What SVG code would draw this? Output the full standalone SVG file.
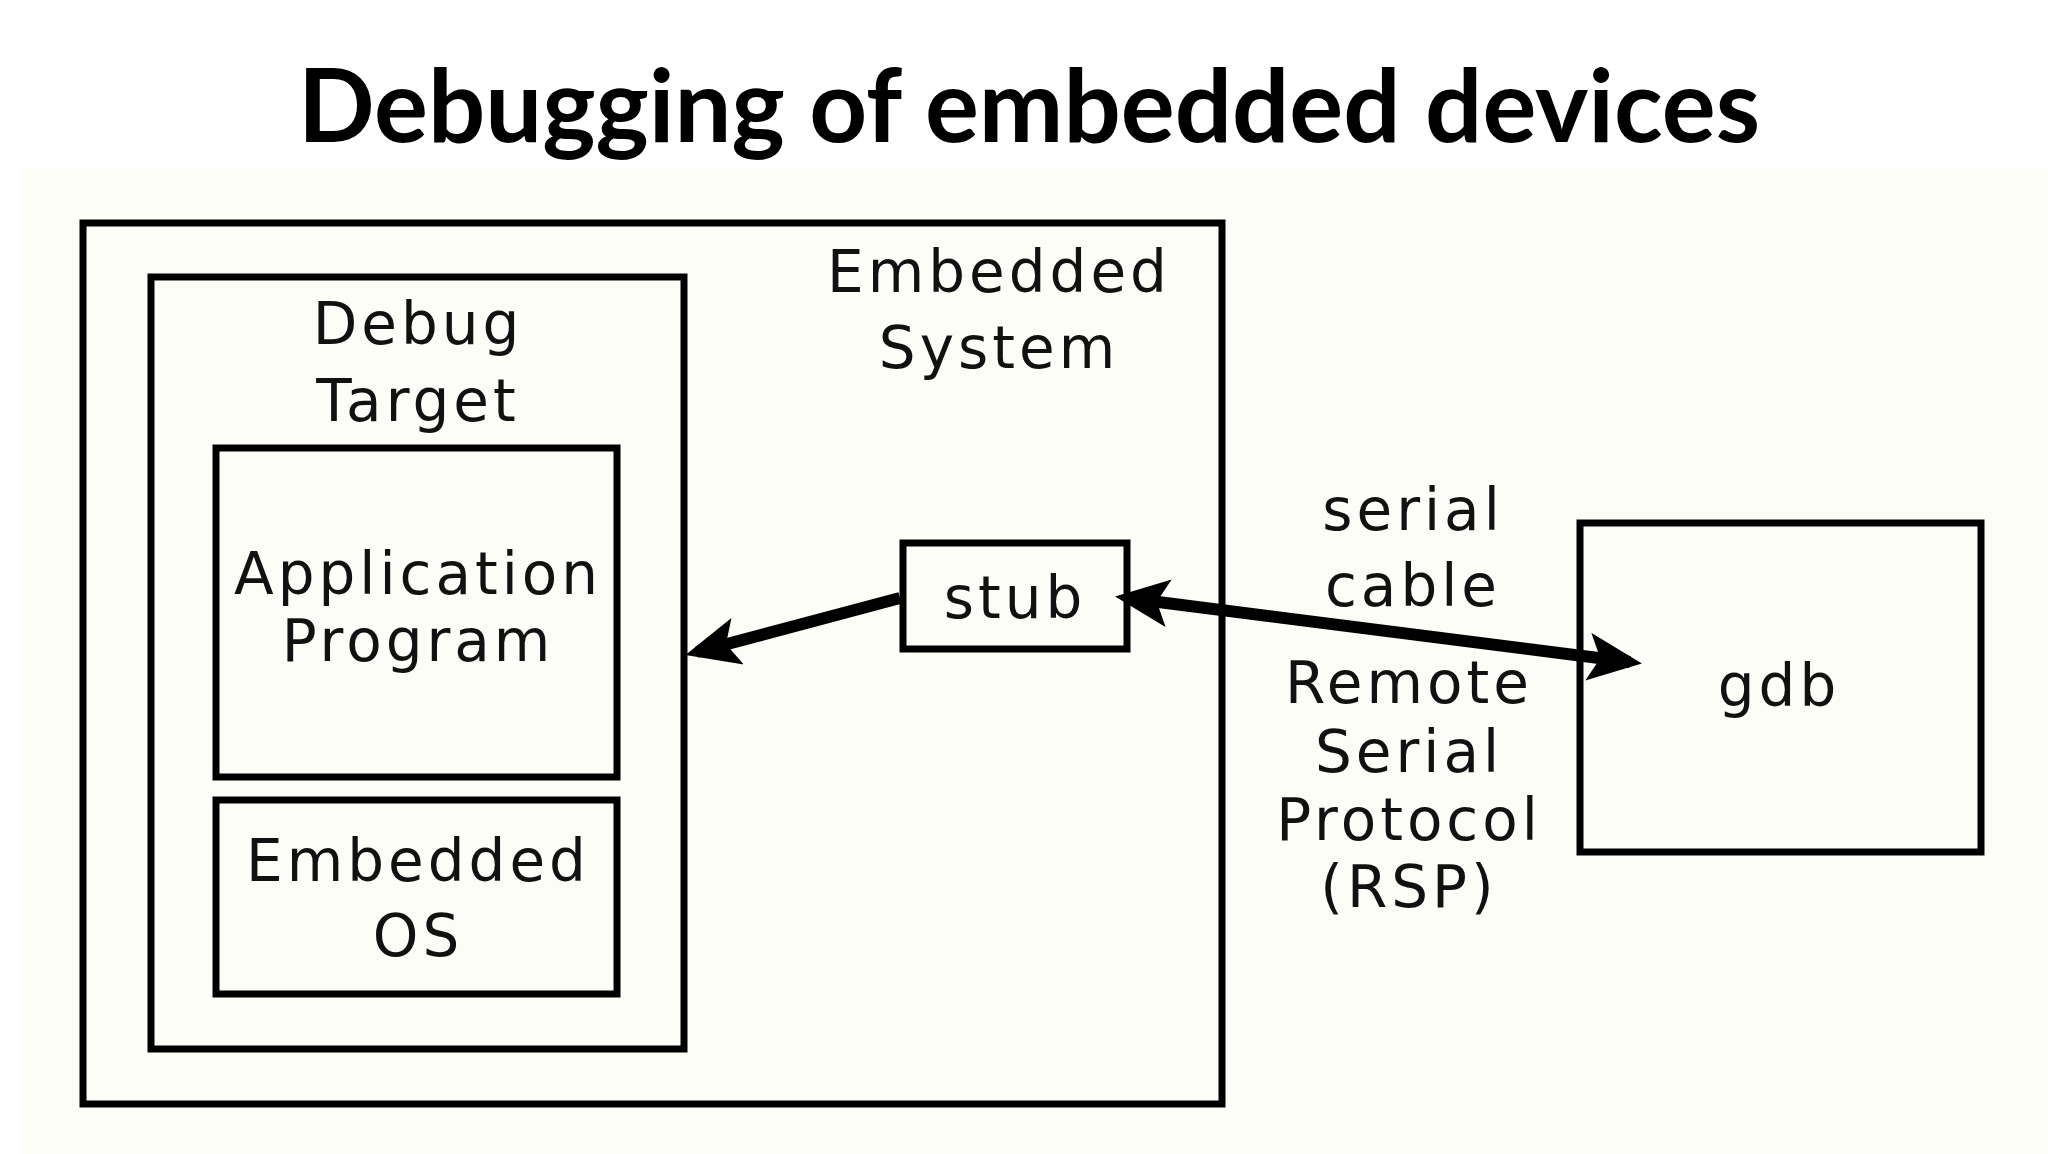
<svg xmlns="http://www.w3.org/2000/svg" width="2048" height="1154" viewBox="0 0 2048 1154">
<style>
.box{fill:none;stroke:#000;stroke-width:7}
.t{font-family:"DejaVu Sans",sans-serif;font-size:58px;letter-spacing:4px;text-anchor:middle;fill:#111}
.c{stroke:#000;stroke-width:12;fill:none}
</style>
<defs>
<marker id="ah" markerWidth="4.5" markerHeight="4" refX="3.5" refY="2" orient="auto-start-reverse" markerUnits="strokeWidth"><path d="M0,0 L4.5,2 L0,4 L1,2 Z" fill="#000"/></marker>
</defs>
<rect width="2048" height="1154" fill="#fff"/>
<rect x="20" y="168" width="2028" height="986" fill="#fdfdf7"/>
<text x="1029" y="142" font-family="Lato,sans-serif" font-weight="700" font-size="101" text-anchor="middle" fill="#000">Debugging of embedded devices</text>
<g id="embedded-system"><rect class="box" x="83" y="223" width="1139" height="881"/><text class="t" x="999" y="292">Embedded</text><text class="t" x="999" y="368">System</text></g>
<g id="debug-target"><rect class="box" x="151" y="277" width="533" height="772"/><text class="t" x="418" y="344">Debug</text><text class="t" x="418" y="421">Target</text></g>
<g id="app"><rect class="box" x="216" y="448" width="401" height="329"/><text class="t" x="418" y="594">Application</text><text class="t" x="418" y="661">Program</text></g>
<g id="os"><rect class="box" x="216" y="800" width="401" height="194"/><text class="t" x="418" y="881">Embedded</text><text class="t" x="418" y="956">OS</text></g>
<g id="stub"><rect class="box" x="903" y="543" width="224" height="106"/><text class="t" x="1015" y="618">stub</text></g>
<g id="gdb"><rect class="box" x="1580" y="523" width="401" height="329"/><text class="t" x="1779" y="706">gdb</text></g>
<g id="connectors">
<line class="c" x1="900" y1="598" x2="697" y2="652" marker-end="url(#ah)"/>
<line class="c" x1="1127" y1="598" x2="1630" y2="662" marker-start="url(#ah)" marker-end="url(#ah)"/>
</g>
<g id="labels">
<text class="t" x="1413" y="530">serial</text><text class="t" x="1413" y="606">cable</text>
<text class="t" x="1409" y="703">Remote</text><text class="t" x="1409" y="772">Serial</text><text class="t" x="1409" y="840">Protocol</text><text class="t" x="1409" y="907">(RSP)</text>
</g>
</svg>
